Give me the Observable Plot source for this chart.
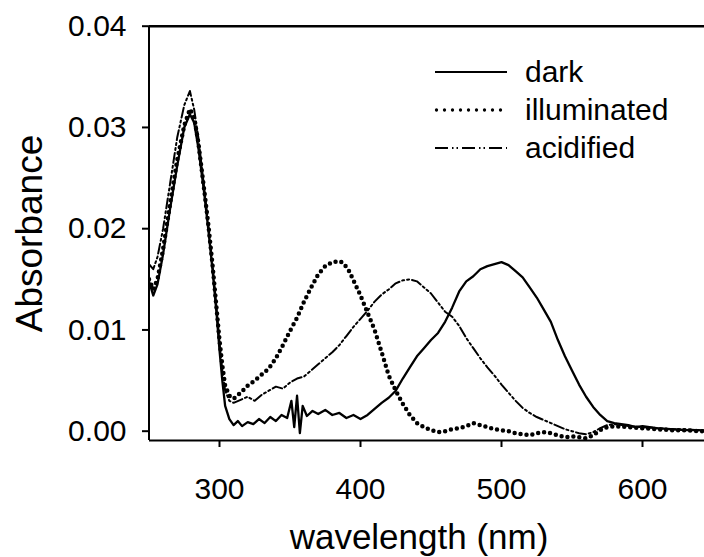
<!DOCTYPE html>
<html>
<head>
<meta charset="utf-8">
<script src="https://cdn.jsdelivr.net/npm/d3@7"></script>
<script src="https://cdn.jsdelivr.net/npm/@observablehq/plot@0.6"></script>
<style>
  body { margin: 0; background: #fff; }
  #wrap { position: relative; width: 704px; height: 557px; font-family: "Liberation Sans", Arial, sans-serif; }
  #legend { position: absolute; left: 435px; top: 53px; }
  .row { display: flex; align-items: center; height: 38px; font-size: 30px; color: #000; }
  .row svg { width: 72px; height: 10px; margin-right: 18px; overflow: visible; }
</style>
</head>
<body>
<div id="wrap"><div id="legend"></div></div>
<script>
// ---- data ----
const seriesNames = ["dark", "illuminated", "acidified"];

const darkNm = [250,253,256,260,265,270,275,279,282,285,289,292,295,298,300,302,304,307,310,313,316,320,324,328,332,336,340,344,348,351,353,355,357,359,362,366,370,375,380,385,390,395,400,405,410,415,420,425,430,435,440,445,450,455,460,465,470,475,480,485,490,495,500,505,510,515,520,525,530,535,540,545,550,555,560,565,570,575,580,585,590,595,600,610,620,630,640,650];
const darkAbs = [0.0148,0.0134,0.0145,0.0175,0.0220,0.0262,0.0300,0.0313,0.0305,0.0280,0.0237,0.0200,0.0160,0.0115,0.0080,0.0050,0.0025,0.0012,0.0006,0.0010,0.0005,0.0009,0.0007,0.0012,0.0008,0.0014,0.0010,0.0016,0.0013,0.0030,0.0004,0.0035,-0.0002,0.0025,0.0015,0.0020,0.0017,0.0021,0.0016,0.0018,0.0013,0.0016,0.0012,0.0016,0.0022,0.0028,0.0033,0.0040,0.0052,0.0063,0.0074,0.0082,0.0090,0.0097,0.0108,0.0122,0.0138,0.0148,0.0153,0.0160,0.0163,0.0165,0.0167,0.0164,0.0158,0.0152,0.0142,0.0132,0.0120,0.0108,0.0090,0.0074,0.0060,0.0046,0.0034,0.0024,0.0016,0.0010,0.0008,0.0007,0.0006,0.0004,0.0005,0.0003,0.0002,0.0001,0.0001,0.0000];

const illumNm = [250,253,256,260,265,270,275,279,282,285,289,292,295,298,300,302,304,307,310,315,320,325,330,335,340,345,350,355,360,365,370,375,380,385,388,392,395,400,405,410,415,420,425,430,435,440,445,450,455,460,465,470,475,480,485,490,495,500,505,510,515,520,525,530,535,540,545,550,555,560,565,570,575,580,590,600,610,620,630,640,650];
const illumAbs = [0.0150,0.0140,0.0150,0.0180,0.0225,0.0268,0.0302,0.0318,0.0310,0.0285,0.0240,0.0205,0.0165,0.0120,0.0090,0.0065,0.0045,0.0035,0.0032,0.0038,0.0045,0.0050,0.0056,0.0062,0.0072,0.0085,0.0099,0.0112,0.0128,0.0142,0.0155,0.0163,0.0167,0.0168,0.0166,0.0158,0.0149,0.0134,0.0117,0.0100,0.0078,0.0055,0.0040,0.0027,0.0016,0.0008,0.0004,0.0001,-0.0001,0.0000,0.0002,0.0003,0.0005,0.0008,0.0006,0.0004,0.0002,0.0001,0.0000,-0.0002,-0.0003,-0.0004,-0.0002,-0.0001,-0.0002,-0.0004,-0.0006,-0.0005,-0.0006,-0.0007,-0.0004,0.0001,0.0004,0.0005,0.0004,0.0003,0.0002,0.0001,0.0001,0.0000,0.0000];

const acidNm = [250,253,256,260,265,270,275,279,282,285,289,292,295,298,300,302,304,307,310,315,320,325,330,335,340,345,350,355,360,365,370,375,380,385,390,395,400,405,410,415,420,425,430,435,440,445,450,455,460,465,470,475,480,485,490,495,500,505,510,515,520,525,530,535,540,545,550,555,560,565,570,575,580,590,600,610,620,630,640,650];
const acidAbs = [0.0165,0.0160,0.0172,0.0200,0.0245,0.0290,0.0322,0.0336,0.0318,0.0290,0.0242,0.0205,0.0165,0.0120,0.0088,0.0060,0.0040,0.0030,0.0028,0.0031,0.0034,0.0030,0.0036,0.0040,0.0044,0.0042,0.0048,0.0052,0.0054,0.0060,0.0066,0.0072,0.0078,0.0085,0.0094,0.0103,0.0111,0.0119,0.0128,0.0135,0.0140,0.0146,0.0149,0.0150,0.0148,0.0142,0.0136,0.0127,0.0118,0.0113,0.0104,0.0092,0.0082,0.0072,0.0063,0.0055,0.0046,0.0038,0.0030,0.0023,0.0018,0.0014,0.0011,0.0008,0.0005,0.0002,0.0000,-0.0002,-0.0003,-0.0001,0.0003,0.0006,0.0007,0.0005,0.0004,0.0003,0.0002,0.0002,0.0001,0.0000];

const xTicks = [300, 400, 500, 600];
const yTicks = [0, 0.01, 0.02, 0.03, 0.04];
const xTitle = "wavelength (nm)";
const yTitle = "Absorbance";
const xDomain = [250, 650];
const yDomain = [-0.00092, 0.04];

// ---- build ----
const rows = (nm, abs) => nm.slice(0, Math.min(nm.length, abs.length)).map((w, i) => ({w, a: abs[i]}));

const styles = {
  dark: {stroke: "#000", strokeWidth: 2.3},
  illuminated: {stroke: "#000", strokeWidth: 4.5, strokeDasharray: "0 6", strokeLinecap: "round"},
  acidified: {stroke: "#000", strokeWidth: 2, strokeDasharray: "10 3 2 3 2 3"}
};

const font = "Liberation Sans, Arial, sans-serif";

const chart = Plot.plot({
  width: 704,
  height: 557,
  marginLeft: 149,
  marginRight: 0,
  marginTop: 26,
  marginBottom: 117,
  style: {fontFamily: font, color: "#000", background: "#fff", overflow: "visible"},
  x: {domain: xDomain, range: [148.5, 712.5]},
  y: {domain: yDomain, range: [440, 25.7]},
  marks: [
    Plot.ruleY([yDomain[0]], {stroke: "#000", strokeWidth: 2}),
    Plot.ruleY([yDomain[1]], {stroke: "#000", strokeWidth: 2.4}),
    Plot.ruleX([xDomain[0]], {stroke: "#000", strokeWidth: 2}),
    Plot.axisY({ticks: yTicks, tickFormat: d3.format(".2f"), tickSize: 7, tickPadding: 16, fontSize: 30, strokeWidth: 2, label: null}),
    Plot.axisX({ticks: xTicks, tickFormat: d3.format("d"), tickSize: 7, tickPadding: 30, fontSize: 30, strokeWidth: 2, label: null}),
    Plot.line(rows(acidNm, acidAbs), {x: "w", y: "a", clip: true, ...styles.acidified}),
    Plot.line(rows(illumNm, illumAbs), {x: "w", y: "a", clip: true, ...styles.illuminated}),
    Plot.line(rows(darkNm, darkAbs), {x: "w", y: "a", clip: true, ...styles.dark}),
    Plot.text([xTitle], {frameAnchor: "bottom", textAnchor: "middle", lineAnchor: "bottom", dx: -8, dy: 108, fontSize: 35, fill: "#000"}),
    Plot.text([yTitle], {frameAnchor: "left", textAnchor: "middle", lineAnchor: "middle", rotate: -90, dx: -119, fontSize: 37, fill: "#000"})
  ]
});

const wrap = document.getElementById("wrap");
wrap.insertBefore(chart, wrap.firstChild);

// legend
const legend = document.getElementById("legend");
for (const name of seriesNames) {
  const row = document.createElement("div");
  row.className = "row";
  const dash = name === "illuminated" ? "0 8" : name === "acidified" ? "13 4 1.5 3 1.5 4" : "";
  const sw = name === "illuminated" ? 3.3 : name === "acidified" ? 2 : 2.2;
  row.innerHTML = `<svg viewBox="0 0 72 10"><line x1="${name === "illuminated" ? 1.5 : 0}" y1="5" x2="72" y2="5" stroke="#000" stroke-width="${sw}" ${dash ? `stroke-dasharray="${dash}"` : ""} ${name === "illuminated" ? 'stroke-linecap="round"' : ""}/></svg><span>${name}</span>`;
  legend.appendChild(row);
}
</script>
</body>
</html>
